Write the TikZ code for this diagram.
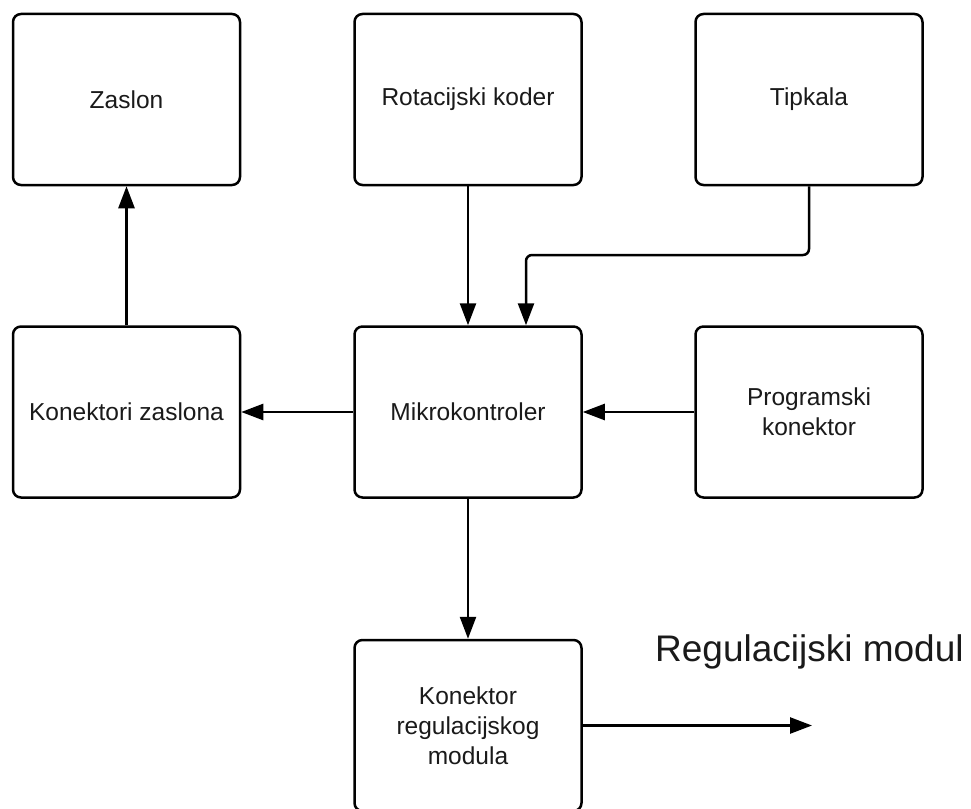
\documentclass[tikz,border=0pt]{standalone}
\usepackage{fontspec}
\setmainfont{Liberation Sans}
\usetikzlibrary{arrows.meta}
\definecolor{ink}{HTML}{1A1A1A}
\begin{document}
\begin{tikzpicture}[x=1pt,y=-1pt,
  blk/.style={draw=black, line width=2.5pt, rounded corners=8pt, fill=white,
    minimum width=227pt, minimum height=171pt, align=center, text=ink,
    font=\fontsize{24.5}{30}\selectfont, inner sep=0pt},
  conn/.style={draw=black, line width=2.5pt, -{Triangle[length=22pt,width=16pt]}}]
\clip (0,0) rectangle (971,808);
\fill[white] (0,0) rectangle (971,808);
\node[blk] (zaslon) at (126.5,99.5) {Zaslon};
\node[blk] (rot) at (468,99.5) {Rotacijski koder};
\node[blk] (tip) at (809,99.5) {Tipkala};
\node[blk] (konz) at (126.5,412) {Konektori zaslona};
\node[blk] (mikro) at (468,412) {Mikrokontroler};
\node[blk] (prog) at (809,412) {Programski\\konektor};
\node[blk] (kreg) at (468,725.5) {Konektor\\regulacijskog\\modula};
\node[anchor=base west, inner sep=0pt, text=ink, font=\fontsize{37}{44}\selectfont] (reglabel) at (655,661) {Regulacijski modul};
\coordinate (bend) at (526,255);
\coordinate (regend) at (812,725.5);
\draw[conn] (konz.north) -- (zaslon.south);
\draw[conn] (rot.south) -- (mikro.north);
\draw[conn, rounded corners=6pt] (tip.south) |- (bend) -- (bend |- mikro.north);
\draw[conn] (mikro.west) -- (konz.east);
\draw[conn] (prog.west) -- (mikro.east);
\draw[conn] (mikro.south) -- (kreg.north);
\draw[conn] (kreg.east) -- (regend);
\end{tikzpicture}
\end{document}
